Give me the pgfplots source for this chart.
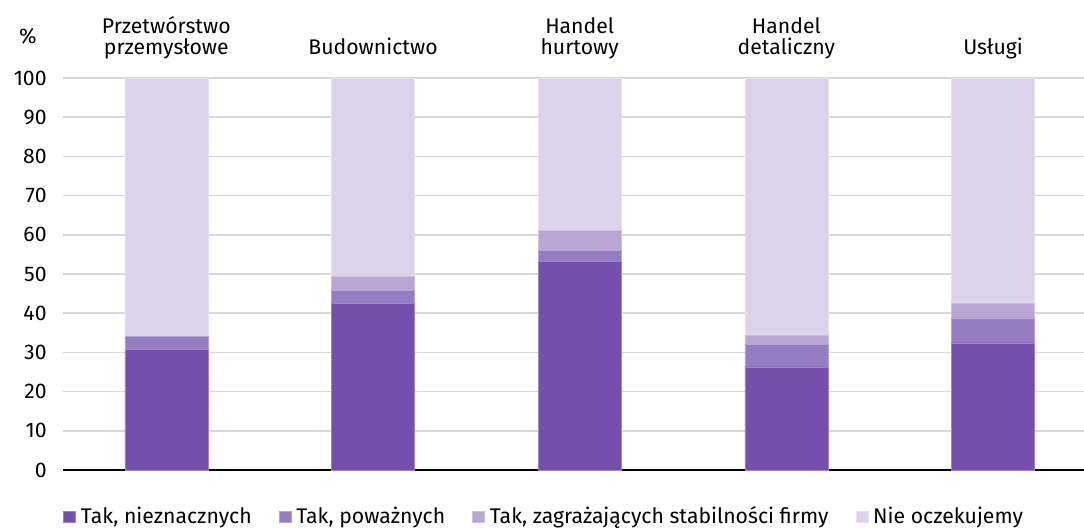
\documentclass[border=0pt]{standalone}
\usepackage{pgfplots}
\pgfplotsset{compat=1.18}
\usepackage{fontspec}
\setmainfont{Fira Sans}
\definecolor{c1}{RGB}{116,80,172}
\definecolor{c2}{RGB}{150,124,193}
\definecolor{c3}{RGB}{185,166,213}
\definecolor{c4}{RGB}{220,211,234}
\begin{document}
\begin{tikzpicture}
\begin{axis}[
  at={(0,0)}, anchor=south west,
  scale only axis,
  width=510.5pt, height=196pt,
  ybar stacked, bar width=41.5pt,
  xmin=-0.5, xmax=4.44, ymin=0, ymax=100,
  xtick={0,1,2,3,4},
  xticklabels={{\strut Przetwórstwo\\[-1.5pt]\strut przemysłowe},{\strut Budownictwo},{\strut Handel\\[-1.5pt]\strut hurtowy},{\strut Handel\\[-1.5pt]\strut detaliczny},{\strut Usługi}},
  xticklabel pos=top,
  xticklabel style={align=center, anchor=south, inner sep=0pt, yshift=8.5pt, font=\fontsize{10.6}{10}\selectfont},
  ytick={0,10,...,100},
  yticklabel style={anchor=east, inner sep=0pt, xshift=-8pt, font=\fontsize{10.6}{11}\selectfont},
  /pgf/number format/assume math mode=true,
  major tick length=0pt,
  tick style={draw=none},
  axis line style={draw=none},
  ymajorgrids,
  grid style={draw={rgb,255:red,217;green,217;blue,217}, line width=0.75pt},
  extra y ticks={0},
  extra y tick labels={},
  extra y tick style={grid style={draw=black, line width=0.8pt}},
  legend columns=4,
  legend style={draw=none, at={(rel axis cs:0,0)}, anchor=north west, xshift=0pt, yshift=-15.5pt,
    font=\fontsize{10.6}{11}\selectfont, inner sep=0pt,
    nodes={inner sep=2.5pt},
    /tikz/every even column/.append style={column sep=11pt}},
  legend image code/.code={\fill[#1] (0pt,-2.9pt) rectangle (6pt,2.6pt);},
  clip=false,
]
\addplot[fill=c1, draw=c1!70!white, line width=0.3pt] coordinates {(0,30.7) (1,42.6) (2,53.3) (3,26.3) (4,32.4)};
\addplot[fill=c2, draw=c2!70!white, line width=0.3pt] coordinates {(0,3.3) (1,3.3) (2,2.7) (3,5.8) (4,6.4)};
\addplot[fill=c3, draw=c3!70!white, line width=0.3pt] coordinates {(0,0) (1,3.5) (2,5.1) (3,2.3) (4,3.8)};
\addplot[fill=c4, draw=c4!70!white, line width=0.3pt] coordinates {(0,66.0) (1,50.6) (2,38.9) (3,65.6) (4,57.4)};
\legend{{Tak, nieznacznych}, {Tak, poważnych}, {Tak, zagrażających stabilności firmy}, {Nie oczekujemy}}
\node[font=\fontsize{10.6}{11}\selectfont] at (rel axis cs:0,1) [xshift=-17.5pt, yshift=21pt] {\%};
\end{axis}
\pgfresetboundingbox
\path (-31.5pt,-28.5pt) rectangle (510.5pt,235pt);
\end{tikzpicture}
\end{document}
